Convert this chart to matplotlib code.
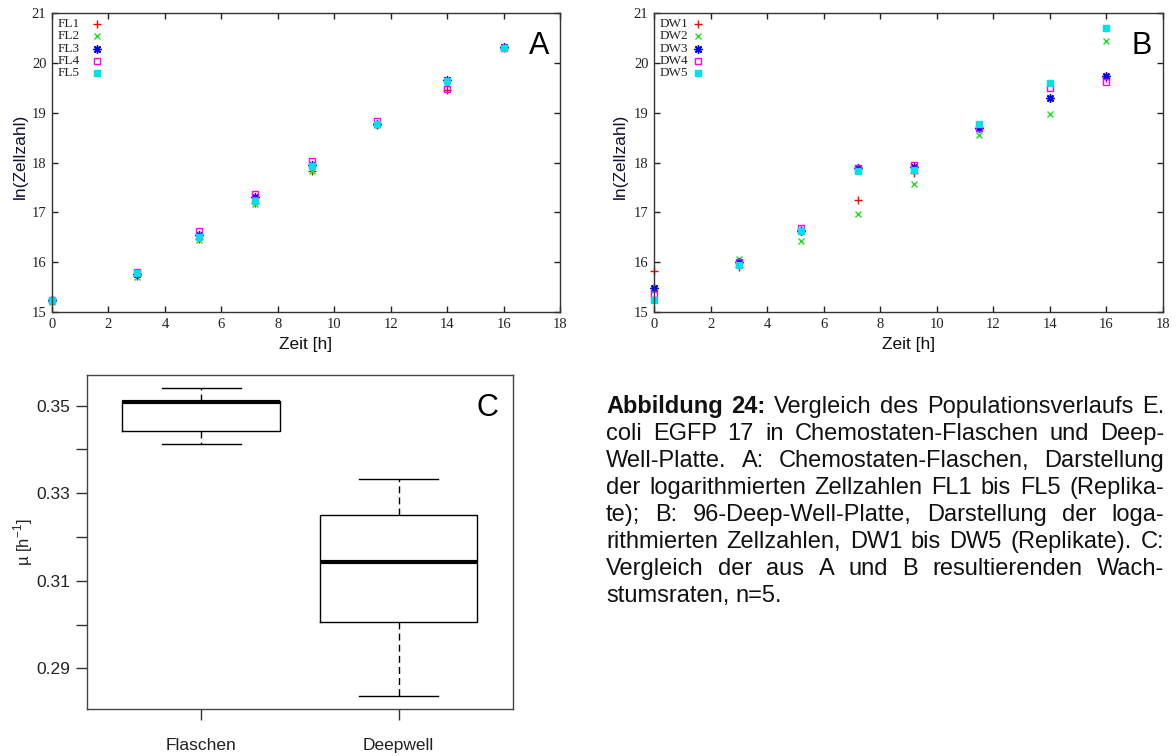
import numpy as np
import matplotlib
matplotlib.use("Agg")
import matplotlib.pyplot as plt

W, H = 1176, 756
SANS = "Liberation Sans"
SERIF = "Liberation Serif"

# sampling times [h]
zeit = [0, 3, 5.2, 7.2, 9.2, 11.5, 14, 16]

# ln(cell count), chemostat flasks
fl_names = ["FL1", "FL2", "FL3", "FL4", "FL5"]
fl1 = [15.22, 15.73, 16.47, 17.18, 17.83, 18.76, 19.45, 20.30]
fl2 = [15.20, 15.71, 16.44, 17.16, 17.82, 18.75, 19.58, 20.30]
fl3 = [15.24, 15.77, 16.55, 17.30, 17.95, 18.78, 19.66, 20.31]
fl4 = [15.25, 15.80, 16.63, 17.36, 18.04, 18.84, 19.48, 20.30]
fl5 = [15.24, 15.79, 16.51, 17.23, 17.93, 18.77, 19.64, 20.30]

# ln(cell count), 96 deep well plate
dw_names = ["DW1", "DW2", "DW3", "DW4", "DW5"]
dw1 = [15.83, 15.90, 16.65, 17.25, 17.78, 18.70, 19.30, 19.70]
dw2 = [15.45, 16.06, 16.43, 16.96, 17.56, 18.55, 18.97, 20.44]
dw3 = [15.49, 16.00, 16.62, 17.88, 17.90, 18.69, 19.29, 19.74]
dw4 = [15.37, 16.01, 16.68, 17.88, 17.95, 18.69, 19.49, 19.61]
dw5 = [15.25, 15.94, 16.63, 17.82, 17.84, 18.77, 19.59, 20.69]

# growth rates mu [1/h], n=5 each
rate_labels = ["Flaschen", "Deepwell"]
mu_flaschen = [0.3412, 0.3443, 0.3508, 0.3511, 0.3540]
mu_deepwell = [0.2837, 0.3006, 0.3142, 0.3250, 0.3333]

caption_bold = "Abbildung 24:"
caption_lines = [
    "Abbildung 24: Vergleich des Populationsverlaufs E.",
    "coli EGFP 17 in Chemostaten-Flaschen und Deep-",
    "Well-Platte. A: Chemostaten-Flaschen, Darstellung",
    "der logarithmierten Zellzahlen FL1 bis FL5 (Replika-",
    "te); B: 96-Deep-Well-Platte, Darstellung der loga-",
    "rithmierten Zellzahlen, DW1 bis DW5 (Replikate). C:",
    "Vergleich der aus A und B resultierenden Wach-",
    "stumsraten, n=5.",
]

styles = [
    dict(marker="+", color="#ff0000", ms=6, mew=1),
    dict(marker="x", color="#22dd22", ms=5, mew=1),
    dict(marker=(8, 2, 0), color="#0000ff", ms=6, mew=1),
    dict(marker="s", color="#ff00ff", mfc="none", ms=5, mew=1),
    dict(marker="s", color="#00e0e8", ms=5, mew=1),
]

fig = plt.figure(figsize=(W / 100, H / 100), dpi=100)


def rect(x0, y0, x1, y1):
    return [x0 / W, 1 - y1 / H, (x1 - x0) / W, (y1 - y0) / H]


def scatter_panel(box, names, series, letter, leg_x, ylab_x):
    ax = fig.add_axes(rect(*box))
    for vals, st in zip(series, styles):
        ax.plot(zeit, vals, ls="none", clip_on=False, **st)
    ax.set_xlim(0, 18)
    ax.set_ylim(15, 21)
    ax.set_xticks(range(0, 19, 2))
    ax.set_yticks(range(15, 22))
    ax.tick_params(direction="in", top=True, right=True, length=4.5,
                   width=1, labelsize=10.5, pad=4, colors="#222222")
    for lab in ax.get_xticklabels() + ax.get_yticklabels():
        lab.set_family(SERIF)
    for s in ax.spines.values():
        s.set_color("#333333")
        s.set_linewidth(1)
    for i, (name, st) in enumerate(zip(names, styles)):
        y = 0.963 - i * 0.041
        ax.text(0.012, y, name, transform=ax.transAxes, family=SERIF,
                fontsize=9.5, va="center", color="#222222")
        ax.plot([leg_x], [y], transform=ax.transAxes, clip_on=False, **st)
    ax.text(0.958, 0.89, letter, transform=ax.transAxes, family=SANS,
            fontsize=22, ha="center", va="center")
    cx = (box[0] + box[2]) / 2
    fig.text(cx / W, 1 - 345 / H, "Zeit [h]", family=SANS, fontsize=12.5,
             ha="center", va="center", color="#111111")
    fig.text(ylab_x / W, 1 - 156 / H, "ln(Zellzahl)", family=SANS,
             fontsize=12.5, rotation=90, ha="center", va="center",
             color="#111133")
    return ax


scatter_panel((52, 13, 560, 312), fl_names, [fl1, fl2, fl3, fl4, fl5],
              "A", 0.089, 20)
scatter_panel((654, 13, 1163, 312), dw_names, [dw1, dw2, dw3, dw4, dw5],
              "B", 0.086, 620)

# growth rate comparison
axc = fig.add_axes(rect(87, 375, 513, 709))
axc.boxplot([mu_flaschen, mu_deepwell], positions=[1, 2], widths=0.8,
            whis=(0, 100), showfliers=False, capwidths=0.4,
            medianprops=dict(color="black", lw=3, solid_capstyle="butt"),
            boxprops=dict(color="black", lw=1),
            whiskerprops=dict(color="black", lw=1, ls=(0, (5, 3))),
            capprops=dict(color="black", lw=1))
axc.set_xlim(0.42, 2.58)
axc.set_ylim(0.2807, 0.357)
yt = np.round(np.arange(0.29, 0.3551, 0.01), 2)
axc.set_yticks(yt)
axc.set_yticklabels([f"{v:.2f}" if i % 2 == 0 else "" for i, v in enumerate(yt)])
axc.set_xticks([1, 2])
axc.set_xticklabels(rate_labels)
axc.tick_params(axis="both", direction="out", length=8, width=1,
                labelsize=12.5, colors="#333333", labelcolor="#222222")
axc.tick_params(axis="x", pad=13)
axc.tick_params(axis="y", pad=4)
for lab in axc.get_xticklabels() + axc.get_yticklabels():
    lab.set_family(SANS)
for s in axc.spines.values():
    s.set_color("#444444")
    s.set_linewidth(1)
axc.text(0.941, 0.901, "C", transform=axc.transAxes, family=SANS,
         fontsize=22, ha="center", va="center")
fig.text(23 / W, 1 - 542 / H, r"µ [h$^{\mathregular{-1}}$]", family=SANS,
         fontsize=12, rotation=90, ha="center", va="center", color="#222222")

# justified caption block
renderer = fig.canvas.get_renderer()
x_left, x_right = 606, 1164
base0, step = 413, 27
fs = 17
n_bold = len(caption_bold.split())
for k, line in enumerate(caption_lines):
    words = line.split()
    texts = []
    for j, w in enumerate(words):
        bold = (k == 0 and j < n_bold)
        t = fig.text(0, 0, w, family=SANS, fontsize=fs,
                     weight="bold" if bold else "normal",
                     va="baseline", ha="left", color="#111111")
        texts.append(t)
    widths = [t.get_window_extent(renderer).width for t in texts]
    if k == len(caption_lines) - 1:
        sp = fig.text(0, 0, "a a", family=SANS, fontsize=fs)
        spa = fig.text(0, 0, "aa", family=SANS, fontsize=fs)
        gap = (sp.get_window_extent(renderer).width
               - spa.get_window_extent(renderer).width)
        sp.remove(); spa.remove()
    else:
        gap = (x_right - x_left - sum(widths)) / (len(words) - 1)
    x = x_left
    y = base0 + k * step
    for t, w in zip(texts, widths):
        t.set_position((x / W, 1 - y / H))
        x += w + gap

fig.savefig("out.png", dpi=100)
